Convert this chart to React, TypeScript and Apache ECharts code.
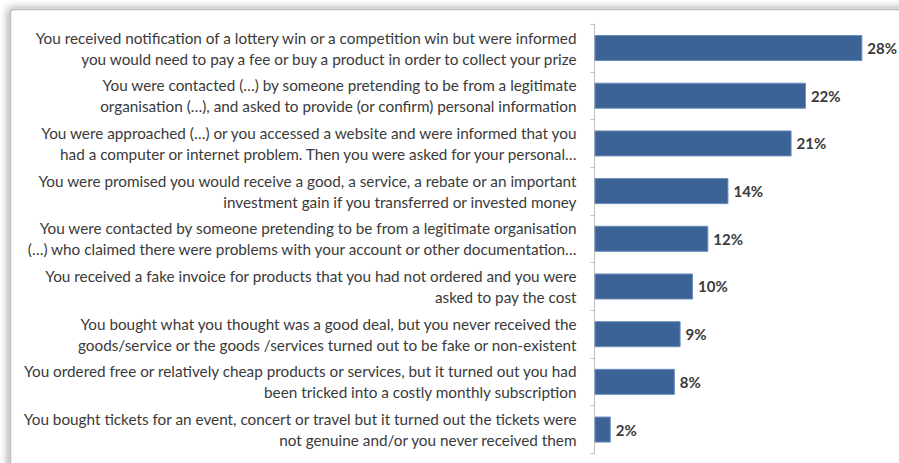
import React, { useEffect, useRef } from "react";
import * as echarts from "echarts";

const categories: string[] = [
  "You received notification of a lottery win or a competition win but were informed\nyou would need to pay a fee or buy a product in order to collect your prize",
  "You were contacted (…) by someone pretending to be from a legitimate\norganisation (…), and asked to provide (or confirm) personal information",
  "You were approached (…) or you accessed a website and were informed that you\nhad a computer or internet problem. Then you were asked for your personal…",
  "You were promised you would receive a good, a service, a rebate or an important\ninvestment gain if you transferred or invested money",
  "You were contacted by someone pretending to be from a legitimate organisation\n(…) who claimed there were problems with your account or other documentation…",
  "You received a fake invoice for products that you had not ordered and you were\nasked to pay the cost",
  "You bought what you thought was a good deal, but you never received the\ngoods/service or the goods /services turned out to be fake or non-existent",
  "You ordered free or relatively cheap products or services, but it turned out you had\nbeen tricked into a costly monthly subscription",
  "You bought tickets for an event, concert or travel but it turned out the tickets were\nnot genuine and/or you never received them",
];

const values: number[] = [28, 22.1, 20.6, 14, 11.9, 10.3, 9, 8.4, 1.7];
const valueLabels: string[] = ["28%", "22%", "21%", "14%", "12%", "10%", "9%", "8%", "2%"];

export default function App() {
  const ref = useRef<HTMLDivElement>(null);
  useEffect(() => {
    document.body.style.margin = "0";
    if (!ref.current) return;
    const chart = echarts.init(ref.current, undefined, { renderer: "svg" });
    chart.setOption({
      animation: false,
      backgroundColor: "#ffffff",
      graphic: [
        {
          type: "rect",
          shape: { x: 10.5, y: 9.5, width: 1000, height: 600, r: 3 },
          style: {
            fill: "#ffffff",
            stroke: "#bdbdbd",
            lineWidth: 1.5,
            shadowBlur: 8,
            shadowColor: "rgba(0,0,0,0.35)",
            shadowOffsetX: -2,
            shadowOffsetY: -1,
          },
          z: -10,
          silent: true,
        },
      ],
      grid: { left: 594.5, right: 17.5, top: 24.2, bottom: 9.6, containLabel: false },
      xAxis: {
        type: "value",
        min: 0,
        max: 30,
        show: false,
      },
      yAxis: {
        type: "category",
        data: categories,
        inverse: true,
        axisLine: { show: true, lineStyle: { color: "#bfbfbf", width: 1 } },
        axisTick: { show: true, length: 4, lineStyle: { color: "#bfbfbf" } },
        axisLabel: {
          margin: 18,
          align: "right",
          color: "#3a3a3a",
          fontFamily: "Lato",
          fontSize: 15.3,
          lineHeight: 21,
        },
      },
      series: [
        {
          type: "bar",
          data: values,
          barWidth: 26,
          itemStyle: { color: "#3b6395", borderColor: "#6a8cbb", borderWidth: 1 },
          label: {
            show: true,
            position: "right",
            distance: 5,
            color: "#3a3a3a",
            fontFamily: "Lato",
            fontSize: 15,
            fontWeight: "bold",
            formatter: (p: any) => valueLabels[p.dataIndex],
          },
        },
      ],
    });
    return () => chart.dispose();
  }, []);
  return <div ref={ref} style={{ width: 899, height: 463 }} />;
}
